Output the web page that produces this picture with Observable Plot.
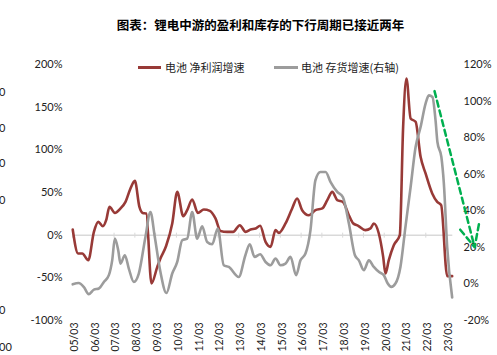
<!DOCTYPE html>
<html><head><meta charset="utf-8">
<script src="https://cdn.jsdelivr.net/npm/d3@7"></script>
<script src="https://cdn.jsdelivr.net/npm/@observablehq/plot@0.6"></script>
<style>
body{margin:0;background:#fff;}
#wrap{position:relative;width:497px;height:355px;overflow:hidden;font-family:"Noto Sans CJK SC",sans-serif;color:#000;}
#title{position:absolute;left:0;top:17px;width:521px;text-align:center;font-size:12.5px;font-weight:bold;line-height:16px;}
.sw{position:absolute;height:3px;}
.lt{position:absolute;font-size:11px;line-height:14px;color:#222;white-space:nowrap;}
.stray{position:absolute;font-family:Lato,sans-serif;font-size:11px;line-height:12px;color:#222;}
#chart{position:absolute;left:0;top:45px;}
</style></head><body>
<div id="wrap">
  <div id="title">图表：锂电中游的盈利和库存的下行周期已接近两年</div>
  <div id="legend"></div>
  <div id="stray"></div>
  <div id="chart"></div>
</div>
<script>
// Series 1: 电池 净利润增速 (left axis, %)
const profitT = [2005.01,2005.27,2005.47,2005.76,2006.03,2006.24,2006.46,2006.62,2006.78,2007.04,2007.31,2007.55,2007.79,2008.00,2008.22,2008.38,2008.55,2008.80,2009.08,2009.23,2009.50,2009.80,2010.04,2010.33,2010.52,2010.76,2011.03,2011.32,2011.61,2011.88,2012.12,2012.44,2012.73,2013.05,2013.33,2013.57,2013.81,2014.03,2014.29,2014.53,2014.77,2014.93,2015.25,2015.57,2015.81,2016.05,2016.37,2016.69,2017.02,2017.26,2017.50,2017.74,2018.01,2018.30,2018.50,2018.75,2019.10,2019.34,2019.50,2019.74,2019.95,2020.06,2020.22,2020.46,2020.75,2020.91,2021.07,2021.27,2021.51,2021.75,2021.99,2022.31,2022.55,2022.74,2023.03,2023.27];
const profitV = [6.7,-21.4,-21.4,-29.3,3.9,15.6,10.5,17.6,33.2,26.1,31.3,39.0,54.7,63.6,33.2,26.1,25.4,-56.6,-37.1,-27.3,-13,13.7,50.7,22.3,29.3,41.8,26.1,30.1,28.5,19.6,5.0,3.9,3.9,11.7,3.9,6.7,7.9,11,-7.9,-13.7,5.9,2.7,13.7,31.3,43.0,29.3,23.4,29.3,31.3,41.0,50.7,41.0,39.0,23.4,14,11,5.9,7.9,13.7,2.0,-25.4,-44.9,-29.3,-11.7,0,126.9,183.6,136.8,132.8,91.8,72.3,48.9,39.0,35.2,-48.0,-48.0];
// Series 2: 电池 存货增速 (right axis, %)
const invT = [2005.01,2005.30,2005.54,2005.78,2006.03,2006.27,2006.51,2006.75,2006.91,2007.04,2007.20,2007.31,2007.52,2007.71,2007.95,2008.19,2008.51,2008.75,2008.96,2009.23,2009.52,2009.80,2010.04,2010.28,2010.52,2010.76,2011.00,2011.24,2011.48,2011.72,2011.99,2012.28,2012.52,2013.00,2013.32,2013.53,2013.76,2014.03,2014.29,2014.53,2014.77,2015.01,2015.25,2015.49,2015.76,2015.97,2016.21,2016.45,2016.69,2016.93,2017.18,2017.42,2017.74,2018.01,2018.30,2018.59,2018.78,2019.02,2019.26,2019.50,2019.74,2019.98,2020.17,2020.34,2020.54,2020.78,2021.02,2021.27,2021.51,2021.75,2021.99,2022.15,2022.32,2022.47,2022.56,2022.75,2022.87,2023.03,2023.27];
const invV = [-0.2,0.5,-1.6,-5.6,-3.1,-2.5,1.1,4.8,12.9,24.8,18.4,11.1,15.7,8.4,1.1,5.7,25.7,39.3,25.7,6.6,-5.0,5.7,12.0,23.9,24.8,39.3,24.8,31.5,22.9,21.7,30.3,10.2,9.3,3.8,15.7,21.7,14.8,16.2,12.0,10.2,13.9,10.2,11.1,14.8,4.8,12.9,16.6,29.3,56.7,61.2,61.2,55.7,50.3,47.5,33.0,15.7,12.9,7.5,12.9,9.3,6.6,4.8,0.2,-1.6,0.2,9.3,31.1,53.0,74.9,85.8,98.6,103.1,102.2,89.4,77.6,69.4,54.9,20.2,-7.4];
// Axes
const yearTicks = [2005,2006,2007,2008,2009,2010,2011,2012,2013,2014,2015,2016,2017,2018,2019,2020,2021,2022,2023];
const yearLabels = ["05/03","06/03","07/03","08/03","09/03","10/03","11/03","12/03","13/03","14/03","15/03","16/03","17/03","18/03","19/03","20/03","21/03","22/03","23/03"];
const leftTicks = [-100,-50,0,50,100,150,200];
const rightTicks = [-20,0,20,40,60,80,100,120];
const leftDomain = [-100,200];
const rightDomain = [-20,120];
// Annotation arrow (x in years, y on left axis %)
const arrowX = [2022.42, 2024.35];
const arrowY = [168.8, -14.1];
// Series names / colors
const seriesNames = ["电池 净利润增速","电池 存货增速(右轴)"];
const seriesColors = ["#983a37","#9c9c9c"];
// stray cut-off labels at left edge (from adjacent chart)
const strayLabels = ["0","0","0","0","0","00"];
const strayTops = [86,122,157,194,304,341];

const toLeft = v => (v - rightDomain[0]) * (leftDomain[1]-leftDomain[0])/(rightDomain[1]-rightDomain[0]) + leftDomain[0];
const toRight = v => (v - leftDomain[0]) * (rightDomain[1]-rightDomain[0])/(leftDomain[1]-leftDomain[0]) + rightDomain[0];

const profit = profitT.map((t,i)=>({t, v: profitV[i]}));
const inv = invT.map((t,i)=>({t, v: toLeft(invV[i])}));

const W = 497, H = 310;
const chart = Plot.plot({
  width: W, height: H,
  marginLeft: 72, marginRight: 44.7, marginTop: 19, marginBottom: 35,
  style: {fontFamily: "Lato, 'Liberation Sans', sans-serif", fontSize: "11px", color: "#222", background: "transparent", overflow: "visible"},
  x: {domain: [2005, 2023.3], range: [72, 452.3]},
  y: {domain: leftDomain, range: [H-35, 19]},
  marks: [
    Plot.ruleY([0], {x1: 2005, x2: 2023.3, stroke: "#d9d9d9", strokeWidth: 1.5}),
    Plot.ruleX(yearTicks, {x: d=>d, y1: 0, y2: 0, insetTop: -2, insetBottom: -3, stroke: "#d9d9d9", strokeWidth: 1}),
    Plot.axisY({ticks: leftTicks, tickFormat: d => d + "%", tickSize: 0, tickPadding: 10, anchor: "left", label: null}),
    Plot.axisY({ticks: rightTicks.map(toLeft), tickFormat: d => Math.round(toRight(d)) + "%", tickSize: 0, tickPadding: 10.7, anchor: "right", label: null}),
    Plot.axisX({ticks: yearTicks, tickFormat: (d,i) => yearLabels[yearTicks.indexOf(d)], tickRotate: -90, tickSize: 0, tickPadding: 2, anchor: "bottom", label: null, dx: 2, fontSize: 10.5}),
    Plot.line(profit, {x: "t", y: "v", stroke: seriesColors[0], strokeWidth: 2.6, curve: "monotone-x"}),
    Plot.line(inv, {x: "t", y: "v", stroke: seriesColors[1], strokeWidth: 2.6, curve: "monotone-x"}),
    Plot.arrow([0], {x1: arrowX[0], y1: arrowY[0], x2: arrowX[1], y2: arrowY[1], stroke: "#00b050", strokeWidth: 2.5, strokeDasharray: "6,4", headLength: 14, headAngle: 50, bend: 0})
  ]
});
document.getElementById("chart").appendChild(chart);

// Legend
const legend = document.getElementById("legend");
const legPos = [{sw: 138, w: 23, tx: 165}, {sw: 274, w: 24, tx: 301}];
seriesNames.forEach((name, i) => {
  const s = document.createElement("div");
  s.className = "sw";
  s.style.left = legPos[i].sw + "px"; s.style.top = "66px"; s.style.width = legPos[i].w + "px";
  s.style.background = seriesColors[i];
  legend.appendChild(s);
  const t = document.createElement("div");
  t.className = "lt";
  t.style.left = legPos[i].tx + "px"; t.style.top = "60px";
  t.textContent = name;
  legend.appendChild(t);
});
// stray labels
const stray = document.getElementById("stray");
strayLabels.forEach((s, i) => {
  const d = document.createElement("div");
  d.className = "stray";
  d.style.left = "-1px"; d.style.top = strayTops[i] + "px";
  d.textContent = s;
  stray.appendChild(d);
});
</script>
</body></html>
